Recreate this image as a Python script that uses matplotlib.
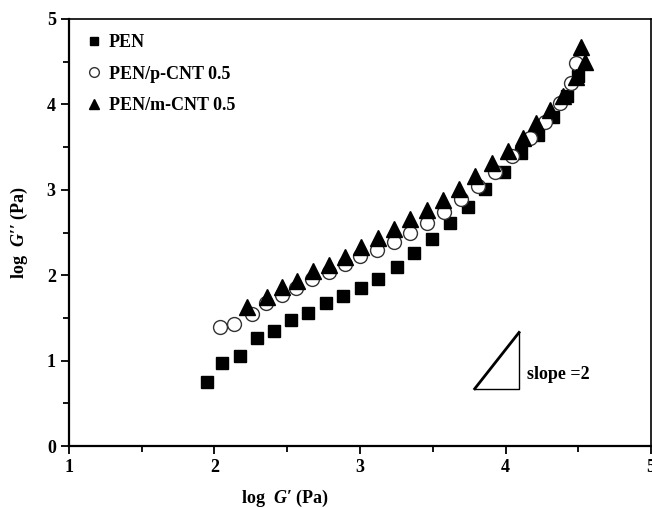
import matplotlib.pyplot as plt
from matplotlib.ticker import MultipleLocator

plt.rcParams['font.family'] = ['Liberation Serif', 'DejaVu Serif']
plt.rcParams['font.weight'] = 'bold'
plt.rcParams['mathtext.fontset'] = 'custom'
plt.rcParams['mathtext.rm'] = 'Liberation Serif:bold'
plt.rcParams['mathtext.bfit'] = 'Liberation Serif:bold:italic'

# log G' vs log G''
pen_x = [1.946, 2.051, 2.172, 2.291, 2.408, 2.527, 2.644, 2.763, 2.882, 3.005,
         3.127, 3.251, 3.374, 3.495, 3.619, 3.740, 3.862, 3.990, 4.104, 4.223,
         4.326, 4.422, 4.498]
pen_y = [0.746, 0.968, 1.057, 1.265, 1.350, 1.472, 1.561, 1.671, 1.756, 1.850,
         1.959, 2.100, 2.256, 2.427, 2.608, 2.802, 3.006, 3.212, 3.427, 3.642,
         3.856, 4.098, 4.333]

pcnt_x = [2.037, 2.135, 2.255, 2.353, 2.463, 2.559, 2.669, 2.784, 2.896, 3.003,
          3.119, 3.232, 3.347, 3.461, 3.576, 3.697, 3.811, 3.926, 4.046, 4.166,
          4.269, 4.372, 4.453, 4.482]
pcnt_y = [1.393, 1.429, 1.542, 1.671, 1.768, 1.847, 1.952, 2.041, 2.131, 2.228,
          2.295, 2.392, 2.491, 2.608, 2.744, 2.889, 3.044, 3.212, 3.398, 3.603,
          3.797, 4.013, 4.247, 4.481]

mcnt_x = [2.220, 2.358, 2.461, 2.564, 2.676, 2.786, 2.896, 3.010, 3.122, 3.232,
          3.345, 3.459, 3.571, 3.683, 3.792, 3.907, 4.017, 4.120, 4.212, 4.304,
          4.395, 4.487, 4.544, 4.521]
mcnt_y = [1.631, 1.748, 1.865, 1.932, 2.049, 2.119, 2.219, 2.334, 2.432, 2.539,
          2.655, 2.768, 2.886, 3.009, 3.162, 3.310, 3.452, 3.603, 3.779, 3.934,
          4.098, 4.324, 4.500, 4.676]

fig = plt.figure(figsize=(6.52, 5.08), dpi=100)
ax = fig.add_axes([0.1058, 0.122, 0.8927, 0.8406])

ax.plot(pen_x, pen_y, 's', color='black', ms=9, mec='black', label='PEN')
ax.plot(pcnt_x, pcnt_y, 'o', mfc='white', mec='#333333', mew=1.0, ms=10,
        label='PEN/p-CNT 0.5')
ax.plot(mcnt_x, mcnt_y, '^', color='black', ms=11, label='PEN/m-CNT 0.5')

# slope = 2 guide triangle
ax.plot([3.788, 4.093], [0.67, 1.33], color='black', lw=2)
ax.plot([3.788, 4.093, 4.093], [0.67, 0.67, 1.33], color='black', lw=1)
ax.text(4.15, 0.84, 'slope =2', fontsize=13, fontweight='bold', va='center')

ax.set_xlim(1, 5)
ax.set_ylim(0, 5)
ax.xaxis.set_major_locator(MultipleLocator(1))
ax.xaxis.set_minor_locator(MultipleLocator(0.5))
ax.yaxis.set_major_locator(MultipleLocator(1))
ax.yaxis.set_minor_locator(MultipleLocator(0.5))
ax.tick_params(which='both', direction='out', width=1.3, labelsize=13)
ax.tick_params(which='major', length=6)
ax.tick_params(which='minor', length=4)
for s in ['left', 'bottom']:
    ax.spines[s].set_linewidth(1.6)
for s in ['top', 'right']:
    ax.spines[s].set_linewidth(1.2)

# x label sits left of the axes centre in the original
ax.set_xlabel('log  $\\mathbfit{G}$\u2032 (Pa)', fontsize=13, fontweight='bold')
ax.xaxis.set_label_coords(0.371, -0.097, transform=ax.transAxes)
ax.xaxis.label.set_va('top')
ax.set_ylabel('log  $\\mathbfit{G}$\u2032\u2032 (Pa)', fontsize=13, fontweight='bold',
              labelpad=12)

ax.legend(loc='upper left', frameon=False, fontsize=13, markerscale=0.7,
          handletextpad=0.25, handlelength=1.1, labelspacing=0.8,
          borderaxespad=0.45)

fig.savefig('out.png', dpi=100)
